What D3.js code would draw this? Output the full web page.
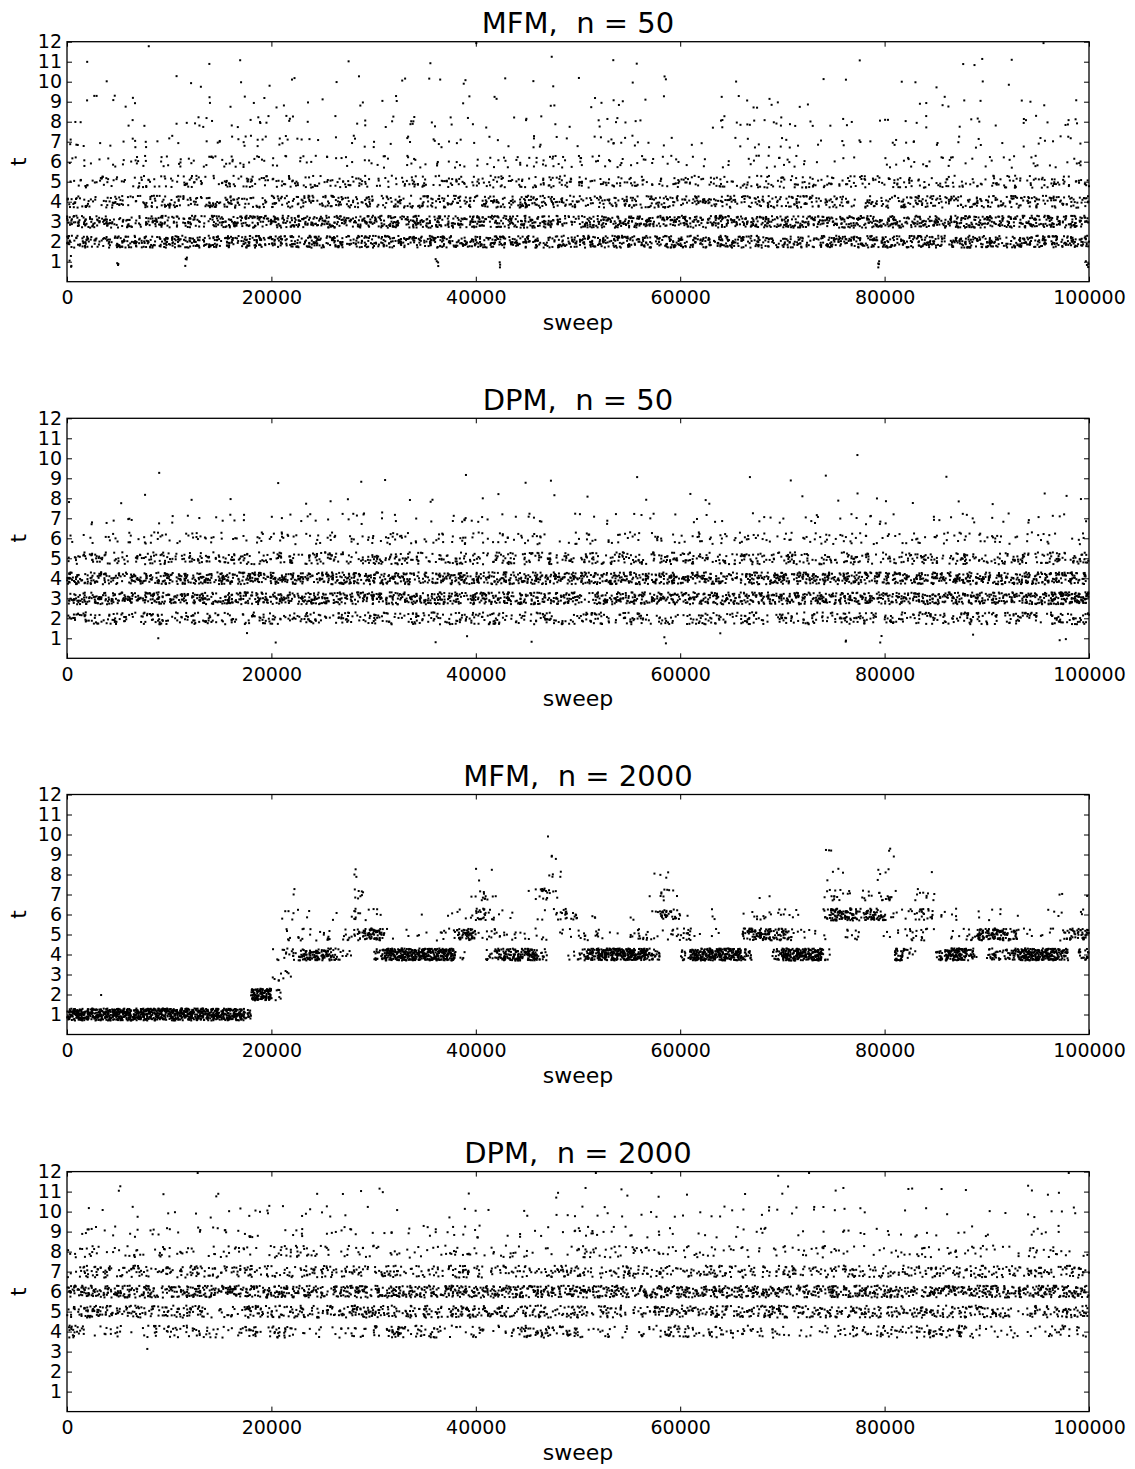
<!DOCTYPE html>
<html>
<head>
<meta charset="utf-8">
<script src="https://cdn.jsdelivr.net/npm/d3@7"></script>
<style>
  body { margin: 0; background: #fff; }
  svg text { font-family: "DejaVu Sans", sans-serif; fill: #000; }
</style>
</head>
<body>
<svg id="chart" width="1135" height="1469"></svg>
<script>
// ---- data ----
const SWEEP_TICKS = [0, 20000, 40000, 60000, 80000, 100000];
const T_TICKS = [1, 2, 3, 4, 5, 6, 7, 8, 9, 10, 11, 12];
const TITLES = ['MFM,  n = 50', 'DPM,  n = 50', 'MFM,  n = 2000', 'DPM,  n = 2000'];

// samples drawn per bin for a density digit 0-9
const DENSITY_COUNTS = [0, 1, 2, 3, 5, 8, 13, 21, 34, 58];

// density strings, one per t (index 0 is t = 1); each char is one sweep bin
const MFM_50 = [
  '0000000000 0000000000 0000000000 0000000000 0000000000',
  '8788888888 8888888888 8887888888 8888787888 8888888888',
  '8877877888 8888888888 8888788888 8888888888 8888888888',
  '7676777776 7777767777 7787767777 7777777757 7777777777',
  '5656566666 6666656666 6666666656 6656666666 6656566666',
  '4245444554 4434344343 4455454444 2234443210 4444233434',
  '4124131344 4312333233 1233214412 1123332221 3322311332',
  '2003024134 3201334132 1122104210 0243422221 2221313223',
  '1232002112 2110212002 1102022211 0023311000 0132101201',
  '0100012011 0201102112 0111010102 0010000110 1110101000',
  '1000001010 0001000100 0001001100 0000000010 0001201000',
  '0000100000 0000000000 1000000000 0000000000 0000000100'
];
const DPM_50 = [
  '0000100010 1000000011 0010000000 0100000000 0000100020',
  '7676767667 6767676767 7667676766 6767667676 7676767677',
  '8888888888 8888888888 8888878888 8888888888 8888888899',
  '8878888888 8888888788 8888888888 8878888888 8888888888',
  '6766767676 7676677667 6767676767 7667676676 6767667677',
  '3345545445 5454555455 4554454544 5455445554 4545454434',
  '0322131330 3322422224 3232123131 2212314124 2032321331',
  '1011001010 0111001200 1101010010 1200010111 1101010111',
  '0000100000 1000110001 0011000100 0001010100 0001000000',
  '0000000000 0000000000 0000000000 0000000010 0000000000',
  '',
  ''
];
const MFM_2000 = [
  '9999999999 9999999800 0000000000 0000000000 0000000000 0000000000 0000000000 0000000000 0000000000 0000000000',
  '0001000000 0000000099 5000000000 0000000000 0000000000 0000000000 0000000000 0000000000 0000000000 0000000000',
  '0000000000 0000000000 4400000000 0000000000 0000000000 0000000000 0000000000 0000000000 0000000000 0000000000',
  '0000000000 0000000000 3568886400 7999999940 0688896004 7899999700 6999997007 9999400000 0850079970 7679999807',
  '0000000000 0000000000 0434250568 8302214478 2544333032 5422055325 6303007887 7332204401 2255303258 8873223577',
  '0000000000 0000000000 0332002153 3000100223 7422003365 0300020376 1003001443 3300788687 4246533102 2201002203',
  '0000000000 0000000000 0020000050 0000000002 5300036400 0000000152 0000000110 0000453244 5104400000 0000000201',
  '0000000000 0000000000 0000000030 0000000000 2100000320 0000000130 0000000000 0000220003 2000100000 0000000000',
  '0000000000 0000000000 0000000000 0000000000 0000000300 0000000000 0000000000 0000300000 3000000000 0000000000',
  '0000000000 0000000000 0000000000 0000000000 0000000100 0000000000 0000000000 0000000000 0000000000 0000000000',
  '',
  ''
];
const DPM_2000 = [
  '',
  '',
  '0001000000 0000000000 0000000000 0000000000 0000000000',
  '7454666566 7445577755 5577745457 6656544566 6677544465',
  '7877777577 7777877778 7777767677 7777877777 7777775777',
  '8888788888 8878888888 8888888788 8888878888 8788888888',
  '6767667676 6676676667 6666766766 6766676676 6676766767',
  '5545553553 6654544455 4543365554 5444345533 4535533553',
  '2423423442 1424232343 3132353332 1223311232 3222210420',
  '0202111224 1331101012 1021222131 2222322221 0111020222',
  '0020100200 0011120001 0001110210 1001110200 0211000310',
  '0000001000 0000000000 0000010010 0000101000 0000000001'
];

// tight runs of samples: [sweep, t, count]
const CLUSTERS_MFM_50 = [[300, 1, 4], [4900, 1, 3], [11700, 1, 4], [36200, 1, 4], [42400, 1, 3], [79500, 1, 4], [99800, 1, 4]];
const CLUSTERS_DPM_50 = [[58500, 1, 2], [76100, 1, 2], [79700, 1, 2]];

// fixed jitter table (values in [0,1)) used to spread samples inside a bin
const JITTER = [0.42,0.87,0.13,0.66,0.29,0.95,0.51,0.08,0.74,0.36,0.61,0.19,0.83,0.47,0.02,0.70,0.25,0.91,0.55,0.33,
  0.78,0.11,0.64,0.40,0.97,0.22,0.58,0.05,0.81,0.44,0.16,0.69,0.31,0.89,0.50,0.27,0.76,0.09,0.60,0.38,
  0.93,0.17,0.72,0.48,0.03,0.85,0.35,0.63,0.21,0.99,0.53,0.12,0.67,0.45,0.80,0.24,0.57,0.06,0.88,0.39,0.71];

const PANELS = [
  { title: TITLES[0], levels: MFM_50, clusters: CLUSTERS_MFM_50 },
  { title: TITLES[1], levels: DPM_50, clusters: CLUSTERS_DPM_50 },
  { title: TITLES[2], levels: MFM_2000, clusters: [] },
  { title: TITLES[3], levels: DPM_2000, clusters: [] }
];

// ---- layout ----
const left = 67, right = 1089;
const plotH = 240;
const tops = [41.7, 418.3, 794.5, 1171.6];
const jitterAmp = 0.3;
const dot = 2;

const svg = d3.select('#chart');

// mix three table lookups so the spread does not repeat visibly
function jit(a, b, c) {
  const at = i => JITTER[((i % 61) + 61) % 61];
  const v = at(a) + 0.618 * at(b) + 0.381 * at(c);
  return v - Math.floor(v);
}

function buildPoints(panel, p) {
  const pts = [];
  panel.levels.forEach((raw, i) => {
    const t = i + 1;
    const s = raw.replace(/\s/g, '');
    if (!s) return;
    const bw = 100000 / s.length;
    for (let b = 0; b < s.length; b++) {
      const n = DENSITY_COUNTS[+s[b]];
      for (let j = 0; j < n; j++) {
        const fx = jit(b * 37 + t * 11 + p * 5 + j * 13, b * b * 7 + j * j * 3 + t, j * b + 5 * j + p);
        const fy = jit(b * 23 + t * 7 + p * 3 + j * 29 + 17, b * 19 + j * j * 11 + p * 11, (j + 3) * (b + t) + 2 * j);
        pts.push({ sweep: b * bw + fx * bw, t: t + (fy - 0.5) * 2 * jitterAmp });
      }
    }
  });
  panel.clusters.forEach(([sw, t, n], c) => {
    for (let j = 0; j < n; j++) {
      const fy = jit(c * 7 + j * 29 + 3, j * 11 + c, c * j);
      const fx = jit(c * 19 + j * 13, c * 3 + j, j * j);
      pts.push({ sweep: sw + (fx - 0.5) * 300, t: t + (fy - 0.5) * 2 * jitterAmp });
    }
  });
  // keep the top row inside the frame
  pts.forEach(d => { d.t = Math.min(d.t, 11.93); });
  return pts;
}

PANELS.forEach((panel, p) => {
  const top = tops[p];
  const x = d3.scaleLinear().domain([0, 100000]).range([left, right]);
  const y = d3.scaleLinear().domain([0, 12]).range([top + plotH, top]);

  const g = svg.append('g');

  // points
  g.append('g')
    .selectAll('rect')
    .data(buildPoints(panel, p))
    .join('rect')
    .attr('x', d => x(d.sweep) - dot / 2)
    .attr('y', d => y(d.t) - dot / 2)
    .attr('width', dot)
    .attr('height', dot)
    .attr('fill', '#000');

  // axes (ticks pointing inward, matplotlib classic style)
  const bottomAxis = g.append('g')
    .attr('transform', `translate(0,${top + plotH})`)
    .call(d3.axisBottom(x).tickValues(SWEEP_TICKS).tickFormat(d3.format('d')).tickSize(-5).tickPadding(9));
  g.append('g')
    .attr('transform', `translate(0,${top})`)
    .call(d3.axisTop(x).tickValues(SWEEP_TICKS).tickFormat('').tickSize(-5));
  const leftAxis = g.append('g')
    .attr('transform', `translate(${left},0)`)
    .call(d3.axisLeft(y).tickValues(T_TICKS).tickFormat(d3.format('d')).tickSize(-5).tickPadding(5));
  g.append('g')
    .attr('transform', `translate(${right},0)`)
    .call(d3.axisRight(y).tickValues(T_TICKS).tickFormat('').tickSize(-5));

  g.selectAll('.domain').remove();
  g.selectAll('.tick line').attr('stroke', '#000').attr('stroke-width', 1);
  bottomAxis.selectAll('text').attr('font-size', '19px').attr('font-family', 'DejaVu Sans');
  leftAxis.selectAll('text').attr('font-size', '19px').attr('font-family', 'DejaVu Sans');

  // frame
  g.append('rect')
    .attr('x', left).attr('y', top)
    .attr('width', right - left).attr('height', plotH)
    .attr('fill', 'none').attr('stroke', '#000').attr('stroke-width', 1.3);

  // labels
  g.append('text')
    .attr('x', (left + right) / 2).attr('y', top - 8.5)
    .attr('text-anchor', 'middle')
    .style('white-space', 'pre')
    .attr('font-size', '29px')
    .text(panel.title);
  g.append('text')
    .attr('x', (left + right) / 2).attr('y', top + plotH + 48)
    .attr('text-anchor', 'middle')
    .attr('font-size', '22px')
    .text('sweep');
  g.append('text')
    .attr('transform', `translate(25.5,${top + plotH / 2}) rotate(-90)`)
    .attr('text-anchor', 'middle')
    .attr('font-size', '22px')
    .text('t');
});
</script>
</body>
</html>
